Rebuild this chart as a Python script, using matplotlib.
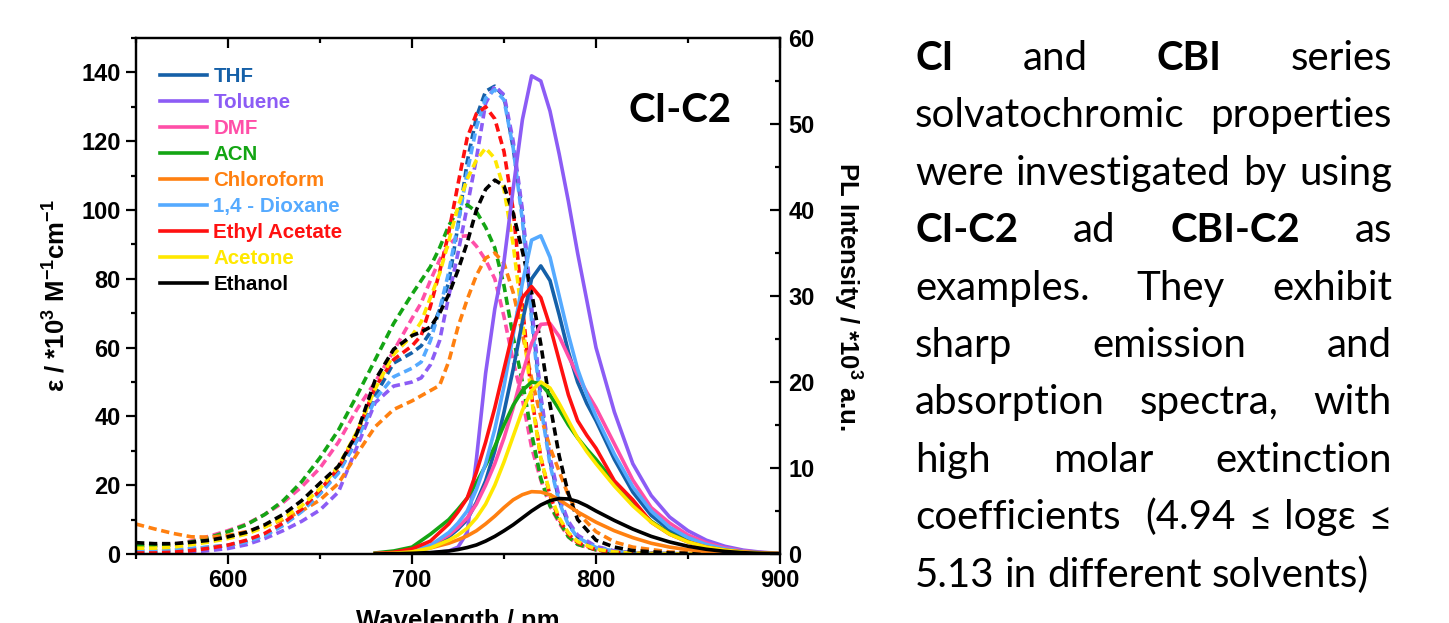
import matplotlib
matplotlib.use("Agg")
import matplotlib.pyplot as plt
from matplotlib.ticker import MultipleLocator, FixedLocator

plt.rcParams['font.family'] = ['Liberation Sans', 'DejaVu Sans']
plt.rcParams['mathtext.fontset'] = 'custom'
plt.rcParams['mathtext.rm'] = 'Liberation Sans:bold'
plt.rcParams['mathtext.bf'] = 'Liberation Sans:bold'
plt.rcParams['mathtext.default'] = 'bf'

solvents = ['THF', 'Toluene', 'DMF', 'ACN', 'Chloroform', '1,4 - Dioxane',
            'Ethyl Acetate', 'Acetone', 'Ethanol']
colors = ['#1560a8', '#8c5cf5', '#ff4fa8', '#14a514', '#ff8010', '#55aaff',
          '#ff1010', '#ffe800', '#000000']

# absorption (left axis, eps / 1e3 M-1 cm-1)
abs_wl = [550, 560, 570, 580, 590, 600, 610, 620, 630, 640, 650, 660, 670, 680, 690,
          700, 705, 710, 715, 720, 725, 730, 735, 740, 745, 750, 755, 760, 765, 770,
          775, 780, 785, 790, 800, 810, 820, 840, 860, 900]
abs_thf = [0.8, 0.8, 1.0, 1.5, 2.0, 2.5, 3.7, 5.5, 8.5, 12.5, 17.7, 24, 33, 46, 55.5,
           58.5, 60.5, 64.5, 71, 79, 95.5, 114, 127, 134.5, 136, 133, 118, 99, 70, 45,
           27, 15.5, 9, 5, 2, 0.8, 0.3, 0.1, 0, 0]
abs_tol = [0.2, 0.2, 0.3, 0.6, 1.0, 1.6, 2.7, 4.5, 6.8, 9.5, 12.8, 18, 31, 44, 48.8,
           50, 51.2, 55, 62, 75, 87.5, 101, 115, 131, 136, 133.5, 120, 100, 72, 46,
           28, 16.5, 9.5, 5.5, 2.2, 0.9, 0.4, 0.1, 0, 0]
abs_dmf = [2.6, 2.5, 2.7, 3.8, 5.2, 6.8, 8.7, 11.5, 15, 19.5, 25, 32.5, 42, 50, 59,
           68.5, 73, 79.5, 85.5, 90, 92.3, 92.5, 89.5, 85.5, 80, 69, 56, 45, 31, 21.5,
           14, 9, 5, 2.8, 1.2, 0.5, 0.2, 0.05, 0, 0]
abs_acn = [2.4, 2.4, 2.6, 3.5, 4.8, 6.5, 8.5, 11.5, 15.5, 21, 28, 36, 46, 56.5, 67,
           75.5, 79.5, 83.5, 89, 95.5, 100, 101.5, 99.5, 95, 89, 78, 63, 50, 35, 22,
           14, 9.5, 5, 2.8, 1.2, 0.5, 0.3, 0.1, 0, 0]
abs_chl = [8.7, 7.3, 6.0, 5.0, 4.9, 5.4, 6.5, 8, 10, 12.5, 15.7, 20.5, 29, 37, 42,
           44.5, 46, 47.5, 49, 56, 66, 74, 81, 86, 87.5, 84.5, 76, 64, 51, 40,
           31, 24, 17, 12, 6.5, 3.5, 2, 0.6, 0.2, 0]
abs_dio = [1.0, 1.0, 1.2, 1.6, 2.0, 2.5, 3.5, 5.3, 8.3, 12.3, 17.5, 23.5, 33, 45, 51.5,
           54, 55.8, 62, 71, 82, 96, 111, 124, 132.5, 135, 132, 118, 97, 68, 43,
           26, 15, 8.5, 4.8, 1.9, 0.8, 0.3, 0.1, 0, 0]
abs_ea = [0.3, 0.3, 0.5, 1.0, 1.7, 2.6, 4, 6, 9, 13, 18.6, 25, 35, 48.5, 56.5,
          60.5, 63.5, 72, 82, 93.5, 107.5, 121, 128, 130, 126.5, 117, 100, 72, 46, 28,
          17, 10, 5.8, 3.3, 1.2, 0.5, 0.2, 0.05, 0, 0]
abs_ace = [1.7, 1.7, 2.0, 2.7, 3.5, 4.5, 5.8, 7.8, 10.5, 14, 19, 25.5, 35.5, 48, 58,
           63.5, 67.5, 74.5, 81.5, 91, 101, 109, 114.5, 118, 115, 106, 90, 68, 45, 28,
           17.5, 10.5, 6.2, 3.6, 1.4, 0.6, 0.25, 0.05, 0, 0]
abs_eth = [3.3, 3.0, 3.0, 3.4, 4.0, 5.0, 6.3, 8.5, 11.5, 15.5, 20.6, 25.5, 35, 50.6, 59.5,
           63.5, 64.5, 66, 70, 75.5, 82.5, 90.5, 100, 106, 108.7, 107, 99, 88, 76, 61,
           43.5, 28.5, 17.5, 10, 4, 2, 1, 0.3, 0.1, 0]

# emission (right axis, PL / 1e3 a.u.)
em_wl = [680, 690, 700, 710, 720, 725, 730, 735, 740, 745, 750, 755, 760, 765, 770,
         775, 780, 785, 790, 795, 800, 810, 820, 830, 840, 850, 860, 870, 880, 890, 900]
em_thf = [0.03, 0.1, 0.3, 0.8, 2.0, 2.9, 4.0, 6.0, 8.5, 12, 16.5, 21.5, 27, 32, 33.5,
          31.8, 27.8, 23.5, 20, 17.5, 15.5, 11, 7.2, 4.5, 2.8, 1.7, 1.0, 0.55, 0.3, 0.15, 0.05]
em_tol = [0, 0.01, 0.03, 0.1, 0.35, 0.8, 2.5, 11, 21, 28.5, 34, 42.5, 50.5, 55.6, 55.0,
          51.5, 46.5, 41, 35, 29.5, 24, 16.5, 10.5, 6.8, 4.3, 2.7, 1.6, 0.9, 0.45, 0.2, 0.08]
em_dmf = [0.05, 0.15, 0.4, 1.0, 2.2, 3.1, 4.2, 5.8, 8, 10.5, 13.5, 17, 21, 24.5, 26.7,
          26.8, 25.3, 23, 20.8, 18.8, 17, 12.8, 8.6, 5.4, 3.6, 2.2, 1.3, 0.7, 0.35, 0.17, 0.07]
em_acn = [0.12, 0.35, 0.8, 2.3, 4.0, 5.2, 6.5, 8.3, 10.3, 12.5, 15, 17.3, 19, 20, 19.8,
          18.5, 16.8, 15, 13.5, 12.2, 11, 8.3, 5.8, 3.8, 2.4, 1.5, 0.9, 0.5, 0.25, 0.12, 0.05]
em_chl = [0.05, 0.15, 0.35, 0.7, 1.25, 1.65, 2.1, 2.7, 3.5, 4.4, 5.4, 6.3, 6.9, 7.25, 7.2,
          6.9, 6.3, 5.6, 4.9, 4.3, 3.7, 2.7, 1.9, 1.25, 0.8, 0.5, 0.3, 0.18, 0.1, 0.05, 0.02]
em_dio = [0.03, 0.12, 0.35, 1.0, 2.5, 3.6, 5.0, 7.5, 10.5, 14.5, 19.5, 25.5, 31.5, 36.5, 37,
          34.5, 30, 25.5, 21.5, 18.5, 16, 11.6, 7.8, 5.0, 3.1, 1.9, 1.1, 0.6, 0.3, 0.15, 0.06]
em_ea = [0.05, 0.2, 0.6, 1.5, 3.5, 4.9, 6.5, 9.5, 13, 17, 21.5, 26, 29.8, 31.1, 29.8,
         26.5, 22.5, 18.5, 15.5, 13.8, 12.3, 8.5, 6.3, 3.7, 2.3, 1.4, 0.8, 0.45, 0.25, 0.12, 0.05]
em_ace = [0.02, 0.08, 0.25, 0.7, 1.6, 2.2, 3.0, 4.2, 5.8, 8, 10.7, 13.7, 16.7, 19, 20,
          19.3, 17.5, 15.5, 13.5, 11.9, 10.5, 7.9, 5.6, 3.7, 2.3, 1.4, 0.8, 0.45, 0.22, 0.1, 0.05]
em_eth = [0.01, 0.03, 0.08, 0.17, 0.35, 0.52, 0.75, 1.05, 1.5, 2.05, 2.7, 3.4, 4.2, 5.0, 5.7,
          6.2, 6.45, 6.4, 6.1, 5.6, 5.0, 3.9, 2.9, 2.05, 1.4, 0.9, 0.55, 0.3, 0.15, 0.07, 0.03]

abs_all = [abs_thf, abs_tol, abs_dmf, abs_acn, abs_chl, abs_dio, abs_ea, abs_ace, abs_eth]
em_all = [em_thf, em_tol, em_dmf, em_acn, em_chl, em_dio, em_ea, em_ace, em_eth]

W, H = 1449, 623
fig = plt.figure(figsize=(W / 100, H / 100), dpi=100)
ax = fig.add_axes([136 / W, 1 - 554 / H, (780 - 136) / W, (554 - 38) / H])
ax2 = ax.twinx()

for col, a, e, name in zip(colors, abs_all, em_all, solvents):
    ax.plot(abs_wl, a, color=col, lw=2.6, ls=(0, (2.3, 1.3)))
    ax2.plot(em_wl, e, color=col, lw=2.6, label=name)

ax.set_xlim(550, 900)
ax.set_ylim(0, 150)
ax2.set_ylim(0, 60)

ax.xaxis.set_major_locator(FixedLocator([600, 700, 800, 900]))
ax.xaxis.set_minor_locator(FixedLocator([550, 650, 750, 850]))
ax.yaxis.set_major_locator(MultipleLocator(20))
ax.yaxis.set_minor_locator(MultipleLocator(10))
ax2.yaxis.set_major_locator(MultipleLocator(10))
ax2.yaxis.set_minor_locator(MultipleLocator(5))

for sp in list(ax.spines.values()) + list(ax2.spines.values()):
    sp.set_linewidth(1.6)

ax.tick_params(axis='both', which='major', direction='out', length=7, width=1.6,
               labelsize=17, pad=4)
ax.tick_params(axis='both', which='minor', direction='out', length=3.5, width=1.6)
ax.tick_params(axis='x', top=False)
ax2.tick_params(axis='y', which='major', direction='in', length=7, width=1.6,
                labelsize=17, pad=6)
ax2.tick_params(axis='y', which='minor', direction='in', length=3.5, width=1.6)
# top ticks pointing inwards
ax2.xaxis.set_visible(True)
ax2.tick_params(axis='x', which='both', bottom=False, top=True, labelbottom=False,
                labeltop=False, direction='in', width=1.6)
ax2.tick_params(axis='x', which='major', length=7)
ax2.tick_params(axis='x', which='minor', length=3.5)

for lab in ax.get_xticklabels() + ax.get_yticklabels() + ax2.get_yticklabels():
    lab.set_fontweight('bold')

ax.set_xlabel('Wavelength / nm', fontsize=18.5, fontweight='bold', labelpad=12)
ax.set_ylabel('ε / *10$^{3}$ M$^{-1}$cm$^{-1}$', fontsize=18.5, fontweight='bold', labelpad=8)
ax2.set_ylabel('PL Intensity / *10$^{3}$ a.u.', fontsize=18.5, fontweight='bold',
               rotation=270, va='bottom', labelpad=12)

leg = ax2.legend(loc='upper left', bbox_to_anchor=(0.037, 0.943), frameon=False,
                 prop={'weight': 'bold', 'size': 14.8}, handlelength=2.3,
                 handletextpad=0.3, labelspacing=0.34, borderpad=0, borderaxespad=0)
for t, c in zip(leg.get_texts(), colors):
    t.set_color(c)

ax2.text(0.845, 0.86, 'CI-C2', transform=ax2.transAxes, ha='center', va='center',
         fontsize=29, fontweight='bold', family=['Lato', 'DejaVu Sans'])

# justified paragraph on the right
para = [
    [('CI', 1, 0), ('and', 0, 1), ('CBI', 1, 1), ('series', 0, 1)],
    [('solvatochromic', 0, 0), ('properties', 0, 1)],
    [('were', 0, 0), ('investigated', 0, 1), ('by', 0, 1), ('using', 0, 1)],
    [('CI-C2', 1, 0), ('ad', 0, 1), ('CBI-C2', 1, 1), ('as', 0, 1)],
    [('examples.', 0, 0), ('They', 0, 1), ('exhibit', 0, 1)],
    [('sharp', 0, 0), ('emission', 0, 1), ('and', 0, 1)],
    [('absorption', 0, 0), ('spectra,', 0, 1), ('with', 0, 1)],
    [('high', 0, 0), ('molar', 0, 1), ('extinction', 0, 1)],
    [('coefficients', 0, 0), ('(4.94', 0, 2), ('≤', 0, 1), ('logε', 0, 1), ('≤', 0, 1)],
    [('5.13', 0, 0), ('in', 0, 1), ('different', 0, 1), ('solvents)', 0, 1)],
]
x_left, x_right = 915, 1392
base0, step = 70, 57.4
pfs = 29
fam = ['Lato', 'DejaVu Sans']
fig.canvas.draw()
rend = fig.canvas.get_renderer()
space_t = fig.text(0, 0, 'a a', fontsize=pfs, family=fam)
aa_t = fig.text(0, 0, 'aa', fontsize=pfs, family=fam)
space_w = space_t.get_window_extent(rend).width - aa_t.get_window_extent(rend).width
space_t.remove()
aa_t.remove()
for i, line in enumerate(para):
    yb = 1 - (base0 + i * step) / H
    items = []
    for word, bold, nsp in line:
        t = fig.text(0, yb, word, fontsize=pfs, family=fam,
                     fontweight='bold' if bold else 'normal', ha='left', va='baseline')
        items.append((t, t.get_window_extent(rend).width, nsp))
    total_w = sum(w for _, w, _ in items)
    total_sp = sum(n for _, _, n in items)
    last = i == len(para) - 1
    s = space_w if last or total_sp == 0 else (x_right - x_left - total_w) / total_sp
    x = x_left
    for t, w, nsp in items:
        x += nsp * s
        t.set_x(x / W)
        x += w

fig.savefig('out.png', dpi=100)
